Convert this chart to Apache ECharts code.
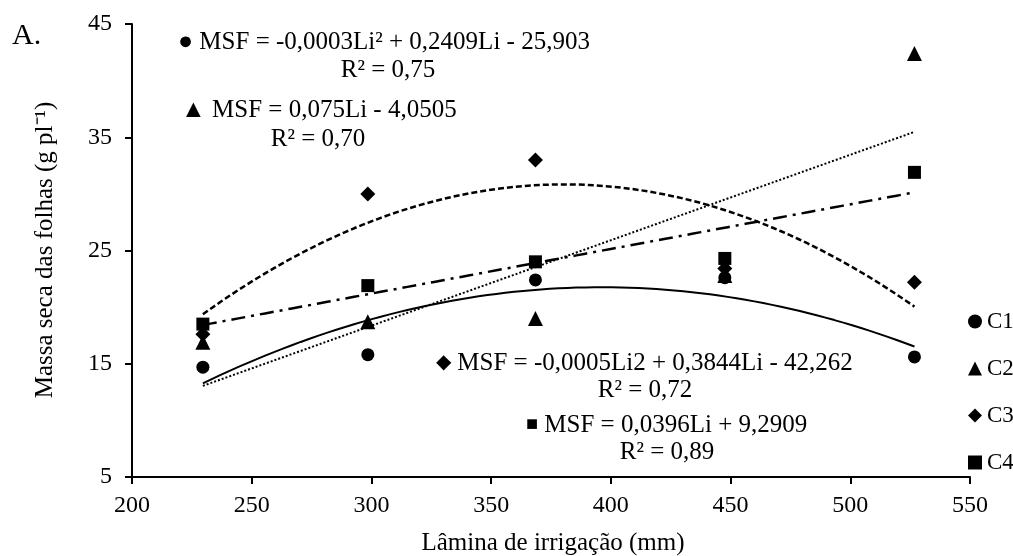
<!DOCTYPE html>
<html>
<head>
<meta charset="utf-8">
<script src="https://cdn.jsdelivr.net/npm/echarts@6/dist/echarts.min.js"></script>
<style>
  html, body { margin: 0; padding: 0; background: #fff; }
  #chart { width: 1013px; height: 556px; }
</style>
</head>
<body>
<div id="chart"></div>
<script>
var laminas = [229.6, 298.5, 368.5, 447.6, 526.8];
var c1 = [14.7, 15.8, 22.4, 22.6, 15.6];
var c2 = [16.9, 18.7, 19.0, 22.8, 42.4];
var c3 = [17.6, 30.0, 33.0, 23.4, 22.2];
var c4 = [18.5, 21.9, 24.0, 24.3, 31.9];
var seriesNames = ['C1', 'C2', 'C3', 'C4'];
var xTicks = [200, 250, 300, 350, 400, 450, 500, 550];
var yTicks = [5, 15, 25, 35, 45];

var serif = '"Liberation Serif", "Times New Roman", serif';

// least squares polynomial fit (degree 1 or 2), as the spreadsheet trendlines
function polyfit(xs, ys, deg) {
    var n = deg + 1, i, j, k;
    var m = [];
    for (i = 0; i < n; i++) {
        m.push([]);
        for (j = 0; j < n; j++) {
            var s = 0;
            for (k = 0; k < xs.length; k++) s += Math.pow(xs[k], i + j);
            m[i].push(s);
        }
        var r = 0;
        for (k = 0; k < xs.length; k++) r += ys[k] * Math.pow(xs[k], i);
        m[i].push(r);
    }
    for (i = 0; i < n; i++) {
        for (j = i + 1; j < n; j++) {
            var f = m[j][i] / m[i][i];
            for (k = i; k <= n; k++) m[j][k] -= f * m[i][k];
        }
    }
    var c = new Array(n);
    for (i = n - 1; i >= 0; i--) {
        var v = m[i][n];
        for (j = i + 1; j < n; j++) v -= m[i][j] * c[j];
        c[i] = v / m[i][i];
    }
    return c;
}

function trend(ys, deg) {
    var c = polyfit(laminas, ys, deg);
    var out = [];
    var x0 = laminas[0], x1 = laminas[laminas.length - 1];
    for (var i = 0; i <= 80; i++) {
        var x = x0 + (x1 - x0) * i / 80;
        var y = 0;
        for (var p = 0; p < c.length; p++) y += c[p] * Math.pow(x, p);
        out.push([x, y]);
    }
    return out;
}

function pts(ys) {
    return laminas.map(function (x, i) { return [x, ys[i]]; });
}

var myChart = echarts.init(document.getElementById('chart'));

function trendSeries(ys, deg, type, width) {
    return {
        type: 'line',
        data: trend(ys, deg),
        showSymbol: false,
        silent: true,
        z: 1,
        lineStyle: { color: '#000', width: width, type: type }
    };
}

function pointSeries(name, ys, symbol, size) {
    return {
        name: name,
        type: 'scatter',
        data: pts(ys),
        symbol: symbol,
        symbolSize: size,
        z: 3,
        itemStyle: { color: '#000', opacity: 1 }
    };
}

function label(x, y, text, size, align) {
    return {
        type: 'text', x: x, y: y,
        style: {
            text: text, font: size + 'px ' + serif, fill: '#000',
            align: align || 'left', verticalAlign: 'middle',
            rich: { s: { fontSize: 20, fontFamily: serif, fill: '#000' } }
        }
    };
}

var option = {
    backgroundColor: '#fff',
    animation: false,
    textStyle: { fontFamily: serif, color: '#000' },
    grid: { left: 132, right: 43, top: 24, bottom: 79 },
    legend: {
        data: seriesNames,
        orient: 'vertical',
        left: 963,
        top: 305,
        itemWidth: 14,
        itemHeight: 14,
        itemGap: 24,
        textStyle: { fontFamily: serif, fontSize: 23, color: '#000' }
    },
    xAxis: {
        type: 'value',
        min: xTicks[0],
        max: xTicks[xTicks.length - 1],
        interval: 50,
        splitLine: { show: false },
        axisLine: { lineStyle: { color: '#000', width: 2 } },
        axisTick: { length: 7, lineStyle: { color: '#000', width: 2 } },
        axisLabel: { color: '#000', fontSize: 24, fontFamily: serif, margin: 17 }
    },
    yAxis: {
        type: 'value',
        min: yTicks[0],
        max: yTicks[yTicks.length - 1],
        interval: 10,
        splitLine: { show: false },
        axisLine: { lineStyle: { color: '#000', width: 2 } },
        axisTick: { length: 7, lineStyle: { color: '#000', width: 2 } },
        axisLabel: { color: '#000', fontSize: 24, fontFamily: serif, margin: 20 }
    },
    graphic: [
        label(12, 36, 'A.', 30),
        label(178, 42, '● MSF = -0,0003Li² + 0,2409Li - 25,903', 25),
        label(388, 70, 'R² = 0,75', 25, 'center'),
        label(181, 110, '▲ MSF = 0,075Li - 4,0505', 25),
        label(318, 139, 'R² = 0,70', 25, 'center'),
        label(436, 363, '{s|◆} MSF = -0,0005Li2 + 0,3844Li - 42,262', 25),
        label(645, 390, 'R² = 0,72', 25, 'center'),
        label(526, 425, '{s|■} MSF = 0,0396Li + 9,2909', 25),
        label(667, 452, 'R² = 0,89', 25, 'center'),
        {
            type: 'text', x: 45, y: 250, rotation: Math.PI / 2,
            style: { text: 'Massa seca das folhas (g pl⁻¹)', font: '25px ' + serif, fill: '#000', align: 'center', verticalAlign: 'middle' }
        },
        label(553, 543, 'Lâmina de irrigação (mm)', 25, 'center')
    ],
    series: [
        trendSeries(c1, 2, 'solid', 2),
        trendSeries(c2, 1, [2, 2], 2),
        trendSeries(c3, 2, [6, 3], 2.5),
        trendSeries(c4, 1, [14, 6, 3, 6], 2.5),
        pointSeries('C1', c1, 'circle', 13),
        pointSeries('C2', c2, 'triangle', 15),
        pointSeries('C3', c3, 'diamond', 15),
        pointSeries('C4', c4, 'rect', 13)
    ]
};
myChart.setOption(option);
</script>
</body>
</html>
